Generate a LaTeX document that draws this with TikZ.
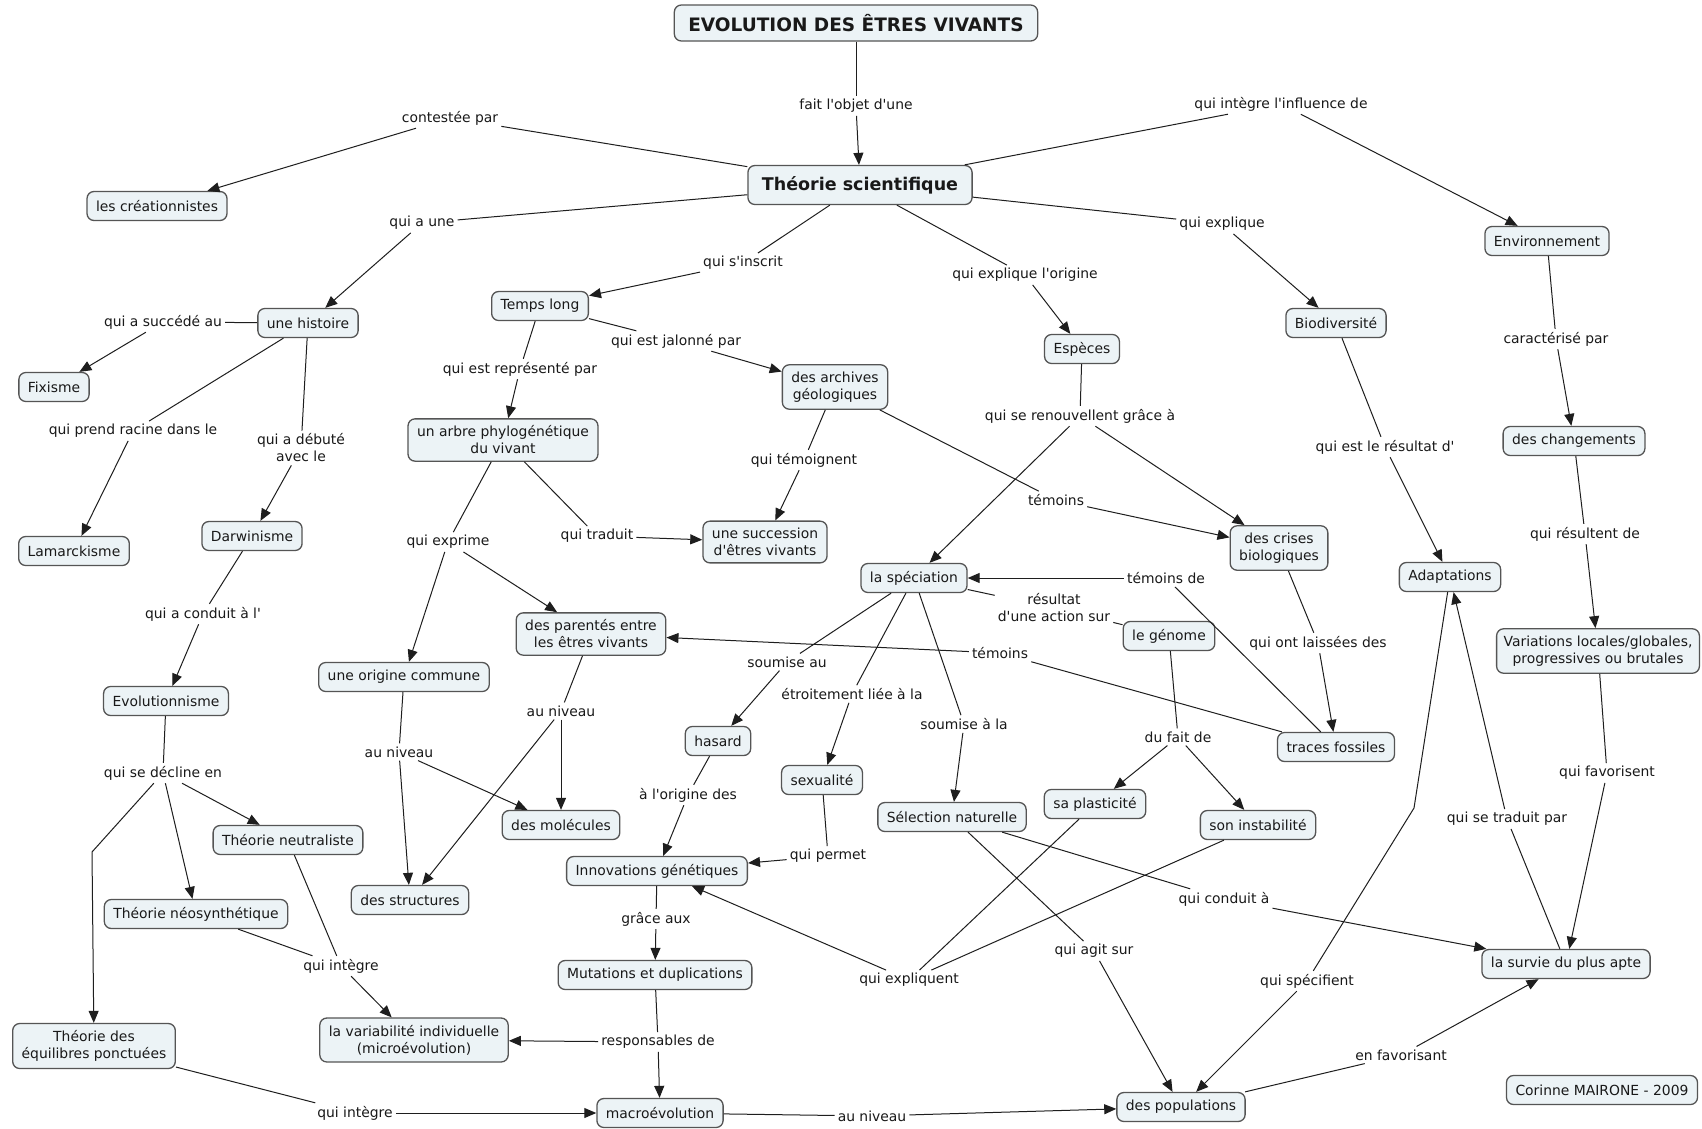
\documentclass[tikz,border=0pt]{standalone}
\usepackage{fontspec}
\setmainfont{DejaVu Sans}
\usetikzlibrary{arrows.meta}
\newcommand\ap{\textquotesingle}
\definecolor{boxfill}{RGB}{236,243,246}
\definecolor{boxline}{RGB}{85,85,85}
\definecolor{lnc}{RGB}{30,30,30}
\definecolor{txt}{RGB}{25,25,25}
\tikzset{
 concept/.style={draw=boxline, fill=boxfill, line width=1.3pt, rounded corners=7pt, inner xsep=9pt, inner ysep=7pt, minimum height=29pt, align=center, text=txt, font=\fontsize{13.9}{17}\selectfont},
 lbl/.style={inner sep=3pt, align=center, text=txt, font=\fontsize{13.9}{17}\selectfont},
 ln/.style={draw=lnc, line width=1pt},
 arr/.style={ln, -{Triangle[length=12pt,width=10pt]}},
}
\begin{document}
\begin{tikzpicture}[x=1pt,y=-1pt]
\useasboundingbox[fill=white] (0,0) rectangle (1702,1128);
% concepts
\node[concept, inner xsep=14pt, minimum height=36pt, font=\fontsize{18.5}{20}\bfseries] (title) at (856,23) {EVOLUTION DES ÊTRES VIVANTS};
\node[concept, inner xsep=14pt, minimum height=39pt, font=\fontsize{17.5}{20}\bfseries] (theo) at (860,185) {Théorie scientifique};
\node[concept] (crea) at (157,206) {les créationnistes};
\node[concept] (hist) at (308,323) {une histoire};
\node[concept] (temps) at (540,306) {Temps long};
\node[concept] (fix) at (54,387) {Fixisme};
\node[concept] (arch) at (835,387) {des archives\\géologiques};
\node[concept] (arbre) at (503,440) {un arbre phylogénétique\\du vivant};
\node[concept] (lam) at (74,551) {Lamarckisme};
\node[concept] (darw) at (252,536) {Darwinisme};
\node[concept] (succ) at (765,542) {une succession\\d\ap êtres vivants};
\node[concept] (evol) at (166,701) {Evolutionnisme};
\node[concept] (parent) at (591,634) {des parentés entre\\les êtres vivants};
\node[concept] (origc) at (404,677) {une origine commune};
\node[concept] (hasard) at (718,741) {hasard};
\node[concept] (spec) at (914,578) {la spéciation};
\node[concept] (crises) at (1279,548) {des crises\\biologiques};
\node[concept] (genome) at (1169,636) {le génome};
\node[concept] (traces) at (1336,747) {traces fossiles};
\node[concept] (adapt) at (1450,577) {Adaptations};
\node[concept] (chang) at (1574,441) {des changements};
\node[concept, inner xsep=7pt] (variat) at (1598,651) {Variations locales/globales,\\progressives ou brutales};
\node[concept] (env) at (1547,241) {Environnement};
\node[concept] (biod) at (1336,323) {Biodiversité};
\node[concept] (esp) at (1082,349) {Espèces};
\node[concept] (sexu) at (822,780) {sexualité};
\node[concept] (selec) at (952,817) {Sélection naturelle};
\node[concept] (plast) at (1095,804) {sa plasticité};
\node[concept] (instab) at (1258,825) {son instabilité};
\node[concept] (neutr) at (288,840) {Théorie neutraliste};
\node[concept] (molec) at (561,825) {des molécules};
\node[concept] (innov) at (657,871) {Innovations génétiques};
\node[concept] (struct) at (410,900) {des structures};
\node[concept] (neosyn) at (196,914) {Théorie néosynthétique};
\node[concept] (mutat) at (655,975) {Mutations et duplications};
\node[concept] (eqp) at (94,1046) {Théorie des\\équilibres ponctuées};
\node[concept] (variab) at (414,1040) {la variabilité individuelle\\(microévolution)};
\node[concept] (macro) at (660,1113) {macroévolution};
\node[concept] (pops) at (1181,1107) {des populations};
\node[concept] (survie) at (1566,964) {la survie du plus apte};
\node[concept] (auteur) at (1602,1090) {Corinne MAIRONE - 2009};
% link labels
\node[lbl] (lfait) at (856,106) {fait l\ap objet d\ap une};
\node[lbl] (lcont) at (450,118) {contestée par};
\node[lbl] (linfl) at (1281,104) {qui intègre l\ap influence de};
\node[lbl] (lqaune) at (422,223) {qui a une};
\node[lbl] (linscr) at (743,263) {qui s\ap inscrit};
\node[lbl] (lexor) at (1025,275) {qui explique l\ap origine};
\node[lbl] (lexpl) at (1222,224) {qui explique};
\node[lbl] (lsucc) at (163,322) {qui a succédé au};
\node[lbl] (ljal) at (676,341) {qui est jalonné par};
\node[lbl] (lrepr) at (520,369) {qui est représenté par};
\node[lbl] (lcarac) at (1556,339) {caractérisé par};
\node[lbl] (lracine) at (133,431) {qui prend racine dans le};
\node[lbl] (ldebut) at (301,448) {qui a débuté\\avec le};
\node[lbl] (lrenouv) at (1080,416) {qui se renouvellent grâce à};
\node[lbl] (ltemoig) at (804,460) {qui témoignent};
\node[lbl] (lresult) at (1385,447) {qui est le résultat d\ap};
\node[lbl] (ltem1) at (1056,500) {témoins};
\node[lbl] (lexpr) at (448,542) {qui exprime};
\node[lbl] (ltrad) at (597,536) {qui traduit};
\node[lbl] (lresul) at (1585,534) {qui résultent de};
\node[lbl] (ltemde) at (1166,578) {témoins de};
\node[lbl] (laction) at (1054,608) {résultat\\d\ap une action sur};
\node[lbl] (lcond) at (203,614) {qui a conduit à l\ap};
\node[lbl] (lsoumau) at (787,662) {soumise au};
\node[lbl] (ltem2) at (1000,653) {témoins};
\node[lbl] (llaiss) at (1318,643) {qui ont laissées des};
\node[lbl] (letroit) at (852,694) {étroitement liée à la};
\node[lbl] (lniv1) at (561,711) {au niveau};
\node[lbl] (lsoumla) at (964,724) {soumise à la};
\node[lbl] (lfait2) at (1178,737) {du fait de};
\node[lbl] (lniv2) at (399,752) {au niveau};
\node[lbl] (ldecl) at (163,773) {qui se décline en};
\node[lbl] (lfavo) at (1607,773) {qui favorisent};
\node[lbl] (lorig) at (688,795) {à l\ap origine des};
\node[lbl] (ltrpar) at (1507,819) {qui se traduit par};
\node[lbl] (lperm) at (828,856) {qui permet};
\node[lbl] (lgrace) at (656,919) {grâce aux};
\node[lbl] (lexpq) at (909,980) {qui expliquent};
\node[lbl] (lagit) at (1094,951) {qui agit sur};
\node[lbl] (lcondu) at (1224,899) {qui conduit à};
\node[lbl] (lspecif) at (1307,981) {qui spécifient};
\node[lbl] (lfavant) at (1401,1055) {en favorisant};
\node[lbl] (lrespo) at (658,1042) {responsables de};
\node[lbl] (linteg1) at (341,966) {qui intègre};
\node[lbl] (linteg2) at (355,1113) {qui intègre};
\node[lbl] (lniv3) at (872,1116) {au niveau};
\coordinate (bendA) at (92,852);
\coordinate (bendB) at (1414,808);
% connectors
\draw[ln] (title) -- (lfait); \draw[arr] (lfait) -- (theo);
\draw[ln] (theo) -- (lcont); \draw[arr] (lcont) -- (crea);
\draw[ln] (theo) -- (linfl); \draw[arr] (linfl) -- (env);
\draw[ln] (theo) -- (lqaune); \draw[arr] (lqaune) -- (hist);
\draw[ln] (theo) -- (linscr); \draw[arr] (linscr) -- (temps);
\draw[ln] (theo) -- (lexor); \draw[arr] (lexor) -- (esp);
\draw[ln] (theo) -- (lexpl); \draw[arr] (lexpl) -- (biod);
\draw[ln] (hist) -- (lsucc); \draw[arr] (lsucc) -- (fix);
\draw[ln] (hist) -- (lracine); \draw[arr] (lracine) -- (lam);
\draw[ln] (hist) -- (ldebut); \draw[arr] (ldebut) -- (darw);
\draw[ln] (temps) -- (ljal); \draw[arr] (ljal) -- (arch);
\draw[ln] (temps) -- (lrepr); \draw[arr] (lrepr) -- (arbre);
\draw[ln] (env) -- (lcarac); \draw[arr] (lcarac) -- (chang);
\draw[ln] (esp) -- (lrenouv); \draw[arr] (lrenouv) -- (spec); \draw[arr] (lrenouv) -- (crises);
\draw[ln] (arch) -- (ltemoig); \draw[arr] (ltemoig) -- (succ);
\draw[ln] (arch) -- (ltem1); \draw[arr] (ltem1) -- (crises);
\draw[ln] (biod) -- (lresult); \draw[arr] (lresult) -- (adapt);
\draw[ln] (arbre) -- (lexpr); \draw[arr] (lexpr) -- (origc); \draw[arr] (lexpr) -- (parent);
\draw[ln] (arbre) -- (ltrad); \draw[arr] (ltrad) -- (succ);
\draw[ln] (chang) -- (lresul); \draw[arr] (lresul) -- (variat);
\draw[ln] (traces) -- (ltemde); \draw[arr] (ltemde) -- (spec);
\draw[ln] (spec) -- (laction); \draw[ln] (laction) -- (genome);
\draw[ln] (darw) -- (lcond); \draw[arr] (lcond) -- (evol);
\draw[ln] (spec) -- (lsoumau); \draw[arr] (lsoumau) -- (hasard);
\draw[ln] (traces) -- (ltem2); \draw[arr] (ltem2) -- (parent);
\draw[ln] (crises) -- (llaiss); \draw[arr] (llaiss) -- (traces);
\draw[ln] (spec) -- (letroit); \draw[arr] (letroit) -- (sexu);
\draw[ln] (parent) -- (lniv1); \draw[arr] (lniv1) -- (molec); \draw[arr] (lniv1) -- (struct);
\draw[ln] (spec) -- (lsoumla); \draw[arr] (lsoumla) -- (selec);
\draw[ln] (genome) -- (lfait2); \draw[arr] (lfait2) -- (plast); \draw[arr] (lfait2) -- (instab);
\draw[ln] (origc) -- (lniv2); \draw[arr] (lniv2) -- (struct); \draw[arr] (lniv2) -- (molec);
\draw[ln] (evol) -- (ldecl); \draw[arr] (ldecl) -- (neutr); \draw[arr] (ldecl) -- (neosyn);
\draw[arr] (ldecl) -- (bendA) -- (eqp);
\draw[ln] (variat) -- (lfavo); \draw[arr] (lfavo) -- (survie);
\draw[ln] (hasard) -- (lorig); \draw[arr] (lorig) -- (innov);
\draw[ln] (survie) -- (ltrpar); \draw[arr] (ltrpar) -- (adapt);
\draw[ln] (sexu) -- (lperm); \draw[arr] (lperm) -- (innov);
\draw[ln] (innov) -- (lgrace); \draw[arr] (lgrace) -- (mutat);
\draw[ln] (plast) -- (lexpq); \draw[ln] (instab) -- (lexpq); \draw[arr] (lexpq) -- (innov);
\draw[ln] (selec) -- (lagit); \draw[arr] (lagit) -- (pops);
\draw[ln] (selec) -- (lcondu); \draw[arr] (lcondu) -- (survie);
\draw[ln] (adapt) -- (bendB) -- (lspecif); \draw[arr] (lspecif) -- (pops);
\draw[ln] (pops) -- (lfavant); \draw[arr] (lfavant) -- (survie);
\draw[ln] (mutat) -- (lrespo); \draw[arr] (lrespo) -- (variab); \draw[arr] (lrespo) -- (macro);
\draw[ln] (neutr) -- (linteg1); \draw[ln] (neosyn) -- (linteg1); \draw[arr] (linteg1) -- (variab);
\draw[ln] (eqp) -- (linteg2); \draw[arr] (linteg2) -- (macro);
\draw[ln] (macro) -- (lniv3); \draw[arr] (lniv3) -- (pops);
\end{tikzpicture}
\end{document}
